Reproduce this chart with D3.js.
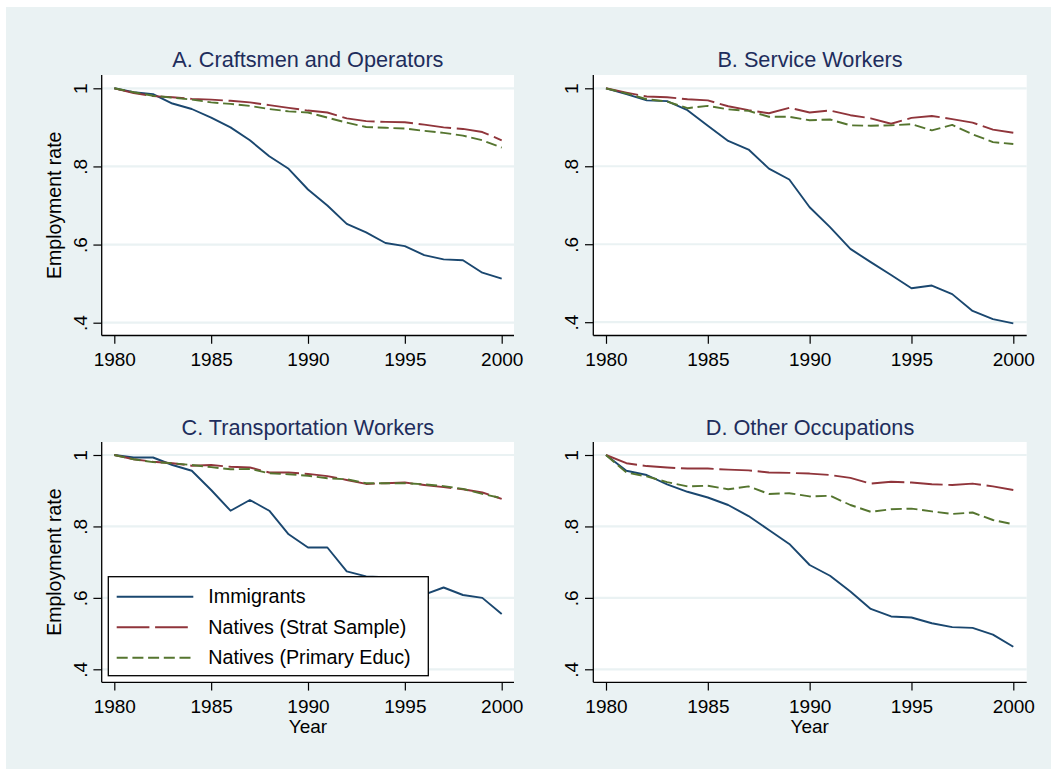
<!DOCTYPE html>
<html><head><meta charset="utf-8">
<script src="https://cdn.jsdelivr.net/npm/d3@7"></script>
<style>body{margin:0;background:#fff}svg{display:block;font-family:"Liberation Sans",Arial,sans-serif}</style>
</head><body><svg id="chart" width="1057" height="774"></svg>
<script>
// ---- data ----
const years = [1980,1981,1982,1983,1984,1985,1986,1987,1988,1989,1990,1991,1992,1993,1994,1995,1996,1997,1998,1999,2000];
const xTicks = [1980,1985,1990,1995,2000];
const yTicks = [1,0.8,0.6,0.4];
const yTickLabels = ["1",".8",".6",".4"];
const panelTitles = ["A. Craftsmen and Operators","B. Service Workers","C. Transportation Workers","D. Other Occupations"];
const seriesNames = ["Immigrants","Natives (Strat Sample)","Natives (Primary Educ)"];
const yAxisTitle = "Employment rate";
const xAxisTitle = "Year";

const craftImmigrants = [1.000,0.990,0.985,0.961,0.947,0.925,0.900,0.867,0.826,0.794,0.741,0.700,0.653,0.631,0.604,0.596,0.573,0.562,0.560,0.528,0.513];
const craftStrat      = [1.000,0.988,0.980,0.977,0.973,0.971,0.968,0.964,0.957,0.950,0.943,0.938,0.923,0.916,0.914,0.913,0.907,0.900,0.896,0.888,0.867];
const craftPrimary    = [1.000,0.990,0.981,0.976,0.971,0.964,0.960,0.955,0.947,0.941,0.938,0.925,0.912,0.901,0.899,0.897,0.891,0.886,0.879,0.867,0.848];

const serviceImmigrants = [1.000,0.985,0.969,0.967,0.944,0.904,0.865,0.843,0.794,0.766,0.695,0.644,0.588,0.554,0.521,0.487,0.494,0.472,0.429,0.408,0.397];
const serviceStrat      = [1.000,0.989,0.979,0.977,0.972,0.969,0.954,0.944,0.936,0.950,0.938,0.943,0.931,0.923,0.909,0.924,0.929,0.921,0.912,0.894,0.886];
const servicePrimary    = [1.000,0.987,0.972,0.966,0.949,0.955,0.946,0.942,0.927,0.927,0.918,0.920,0.905,0.904,0.905,0.908,0.892,0.906,0.882,0.862,0.857];

const transImmigrants = [1.000,0.993,0.993,0.972,0.956,0.902,0.844,0.874,0.844,0.778,0.741,0.741,0.674,0.660,0.658,0.640,0.609,0.629,0.608,0.600,0.555];
const transStrat      = [1.000,0.988,0.981,0.977,0.970,0.972,0.967,0.965,0.951,0.951,0.947,0.941,0.930,0.919,0.921,0.923,0.916,0.910,0.904,0.895,0.877];
const transPrimary    = [1.000,0.988,0.980,0.977,0.972,0.966,0.960,0.961,0.949,0.946,0.942,0.935,0.932,0.921,0.921,0.921,0.918,0.913,0.905,0.891,0.879];

const otherImmigrants = [1.000,0.956,0.944,0.918,0.897,0.881,0.860,0.829,0.790,0.751,0.692,0.662,0.618,0.569,0.548,0.545,0.529,0.518,0.516,0.497,0.463];
const otherStrat      = [1.000,0.977,0.969,0.965,0.962,0.962,0.959,0.957,0.951,0.950,0.948,0.944,0.936,0.920,0.925,0.923,0.918,0.916,0.920,0.912,0.902];
const otherPrimary    = [1.000,0.951,0.940,0.924,0.912,0.914,0.904,0.912,0.891,0.893,0.884,0.886,0.860,0.841,0.848,0.850,0.842,0.835,0.839,0.818,0.806];

const panelSeries = [
  [craftImmigrants, craftStrat, craftPrimary],
  [serviceImmigrants, serviceStrat, servicePrimary],
  [transImmigrants, transStrat, transPrimary],
  [otherImmigrants, otherStrat, otherPrimary]
];

// ---- styles / layout ----
const seriesStyle = [
  {color:"#1A476F", dash:null},
  {color:"#90353B", dash:"32.7,5.7"},
  {color:"#55752F", dash:"11,4.7"}
];
const BG = "#EAF2F3";
const TITLE_COLOR = "#1E2D5C";
const layout = [
  {left:101.7,right:514,top:75,bottom:335.5,x0:114.3,x1:501.7,yTop:88.3,yBot:322.7,titleY:66.7,yTitle:true,xTitle:false},
  {left:593.3,right:1026.7,top:75,bottom:335.5,x0:606,x1:1013.3,yTop:88.3,yBot:322.2,titleY:66.7,yTitle:false,xTitle:false},
  {left:101.7,right:514,top:442,bottom:682.3,x0:114.3,x1:501.7,yTop:455,yBot:669.3,titleY:435,yTitle:true,xTitle:true},
  {left:593.3,right:1026.7,top:442,bottom:682.3,x0:606,x1:1013.3,yTop:455,yBot:669.3,titleY:435,yTitle:false,xTitle:true}
];

const svg = d3.select("#chart");
svg.append("rect").attr("x",6).attr("y",7).attr("width",1045).attr("height",762).attr("fill",BG);

layout.forEach((L, i) => {
  const g = svg.append("g");
  const x = d3.scaleLinear().domain([1980,2000]).range([L.x0, L.x1]);
  const y = d3.scaleLinear().domain([0.4,1]).range([L.yBot, L.yTop]);

  // plot region
  g.append("rect").attr("x",L.left).attr("y",L.top).attr("width",L.right-L.left).attr("height",L.bottom-L.top).attr("fill","#fff");
  // gridlines
  g.selectAll(".grid").data(yTicks).enter().append("line")
    .attr("x1",L.left).attr("x2",L.right).attr("y1",d=>y(d)).attr("y2",d=>y(d))
    .attr("stroke",BG).attr("stroke-width",2.2);

  // series
  const line = d3.line().x((d,j)=>x(years[j])).y(d=>y(d));
  panelSeries[i].forEach((vals, s) => {
    g.append("path").datum(vals).attr("d", line)
      .attr("fill","none").attr("stroke",seriesStyle[s].color).attr("stroke-width",1.9)
      .attr("stroke-dasharray", seriesStyle[s].dash).attr("stroke-linejoin","round");
  });

  // x axis
  const xa = g.append("g").attr("transform",`translate(0,${L.bottom})`)
    .call(d3.axisBottom(x).tickValues(xTicks).tickFormat(d3.format("d")).tickSize(8.3).tickSizeOuter(0));
  xa.select(".domain").remove();
  xa.selectAll("line").attr("stroke","#000").attr("stroke-width",1.2);
  xa.selectAll("text").attr("y",30.5).attr("dy",0).attr("fill","#000")
    .style("font-size","19px").style("font-family",'"Liberation Sans",Arial,sans-serif');
  g.append("line").attr("x1",L.left).attr("x2",L.right).attr("y1",L.bottom).attr("y2",L.bottom).attr("stroke","#000").attr("stroke-width",1.3);

  // y axis
  const ya = g.append("g").attr("transform",`translate(${L.left},0)`)
    .call(d3.axisLeft(y).tickValues(yTicks).tickFormat((d,k)=>yTickLabels[k]).tickSize(8.3).tickSizeOuter(0));
  ya.select(".domain").remove();
  ya.selectAll("line").attr("stroke","#000").attr("stroke-width",1.2);
  ya.selectAll("text").attr("x",0).attr("dy",0).attr("text-anchor","middle")
    .attr("transform","translate(-15.2,0) rotate(-90)").attr("fill","#000")
    .style("font-size","19px").style("font-family",'"Liberation Sans",Arial,sans-serif');
  g.append("line").attr("x1",L.left).attr("x2",L.left).attr("y1",L.top).attr("y2",L.bottom).attr("stroke","#000").attr("stroke-width",1.3);

  // title
  g.append("text").attr("x",(L.left+L.right)/2).attr("y",L.titleY).attr("text-anchor","middle")
    .attr("fill",TITLE_COLOR).style("font-size","21.7px").text(panelTitles[i]);

  if (L.yTitle) {
    g.append("text").attr("transform",`translate(61,${(L.top+L.bottom)/2}) rotate(-90)`)
      .attr("text-anchor","middle").attr("fill","#000").style("font-size","19.5px").text(yAxisTitle);
  }
  if (L.xTitle) {
    g.append("text").attr("x",(L.x0+L.x1)/2).attr("y",L.bottom+50.5).attr("text-anchor","middle")
      .attr("fill","#000").style("font-size","19px").text(xAxisTitle);
  }

  // legend in panel C
  if (i === 2) {
    const lg = g.append("g");
    lg.append("rect").attr("x",108.3).attr("y",576.7).attr("width",320).attr("height",99)
      .attr("fill","#fff").attr("stroke","#000").attr("stroke-width",1.3);
    const rowY = [596.7,627.3,657.7];
    seriesNames.forEach((name, s) => {
      lg.append("line").attr("x1",116.7).attr("x2",193.3).attr("y1",rowY[s]).attr("y2",rowY[s])
        .attr("stroke",seriesStyle[s].color).attr("stroke-width",1.9).attr("stroke-dasharray",seriesStyle[s].dash);
      lg.append("text").attr("x",208.3).attr("y",rowY[s]+6.6).attr("fill","#000")
        .style("font-size","19.7px").text(name);
    });
  }
});
</script></body></html>
